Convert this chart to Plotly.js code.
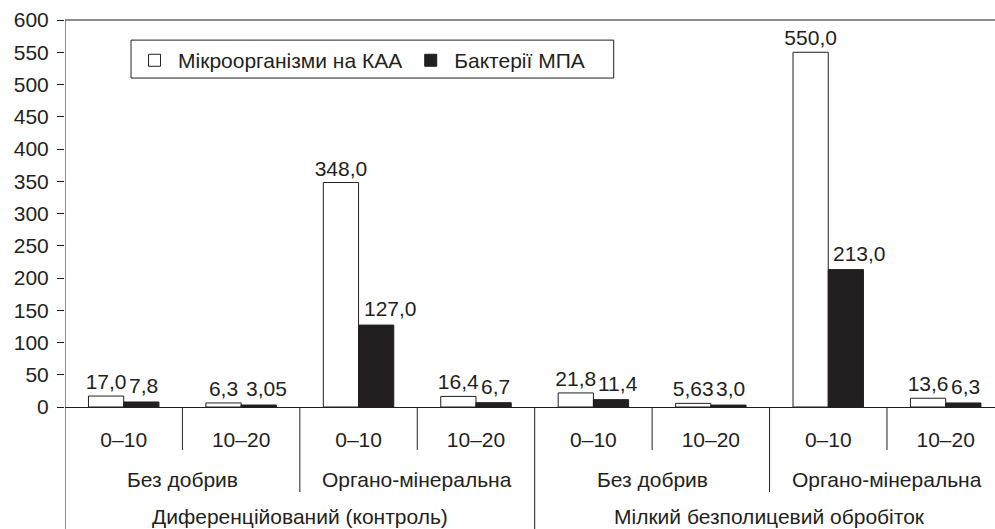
<!DOCTYPE html>
<html><head><meta charset="utf-8">
<script src="https://cdn.plot.ly/plotly-3.0.1.min.js"></script>
<style>html,body{margin:0;padding:0;overflow:hidden;background:#fff}</style>
</head><body><div id="chart" style="width:995px;height:529px"></div>
<script>
const depths = ["0–10","10–20","0–10","10–20","0–10","10–20","0–10","10–20"];
const fertilizers = ["Без добрив","Органо-мінеральна","Без добрив","Органо-мінеральна"];
const tillage = ["Диференційований (контроль)","Мілкий безполицевий обробіток"];
const seriesNames = ["Мікроорганізми на КАА","Бактерії МПА"];
const kaa = [17.0, 6.3, 348.0, 16.4, 21.8, 5.63, 550.0, 13.6];
const mpa = [7.8, 3.05, 127.0, 6.7, 11.4, 3.0, 213.0, 6.3];
const kaaLabels = ["17,0","6,3","348,0","16,4","21,8","5,63","550,0","13,6"];
const mpaLabels = ["7,8","3,05","127,0","6,7","11,4","3,0","213,0","6,3"];
const yTicks = [0,50,100,150,200,250,300,350,400,450,500,550,600];

const ink = '#231f20';
const FONT = 'Liberation Sans, Arial, sans-serif';
const FS = 21;
const xs = depths.map((_, i) => i);

const traces = [
  {type:'bar', name: seriesNames[0], x: xs, y: kaa, text: kaaLabels, textposition:'outside',
   cliponaxis:false, constraintext:'none', textfont:{family:FONT,size:FS,color:ink},
   marker:{color:'#ffffff', line:{color:ink,width:1}}},
  {type:'bar', name: seriesNames[1], x: xs, y: mpa,
   cliponaxis:false,
   marker:{color:ink, line:{color:ink,width:1}}}
];

const perFert = depths.length / fertilizers.length;
const perTill = depths.length / tillage.length;
const yDepthEnd = -0.111, yFertEnd = -0.2196, yBottom = -0.33;
const shapes = [];
for (let i = 0; i < depths.length - 1; i++) {
  const b = i + 0.5;
  let y1 = yDepthEnd;
  if ((i + 1) % perFert === 0) y1 = yFertEnd;
  if ((i + 1) % perTill === 0) y1 = yBottom;
  shapes.push({type:'line', xref:'x', yref:'paper', x0:b, x1:b, y0:0, y1:y1, line:{color:ink,width:1}});
}
shapes.push({type:'line', xref:'x', yref:'paper', x0:-0.5, x1:-0.5, y0:1, y1:yBottom, line:{color:ink,width:1}});
shapes.push({type:'line', xref:'paper', yref:'paper', x0:0, x1:1, y0:1, y1:1, line:{color:ink,width:1}});
// legend frame
shapes.push({type:'rect', xref:'paper', yref:'paper', x0:0.071, x1:0.590, y0:0.850, y1:0.948,
  line:{color:ink,width:1}, fillcolor:'#ffffff', layer:'below'});

const annotations = [];
// labels of the dark bars, starting just right of the bar's left edge
mpa.forEach((v, i) => {
  annotations.push({xref:'x', yref:'y', x: i, y: v, text: mpaLabels[i], showarrow:false,
    xanchor:'left', yanchor:'bottom', xshift:3, yshift:3, font:{family:FONT,size:FS,color:ink}});
});
fertilizers.forEach((f, k) => {
  annotations.push({xref:'x', yref:'paper', x: k*perFert + (perFert-1)/2, y: -0.188,
    text: f, showarrow:false, yanchor:'middle', font:{family:FONT,size:FS,color:ink}});
});
tillage.forEach((t, k) => {
  annotations.push({xref:'x', yref:'paper', x: k*perTill + (perTill-1)/2, y: -0.283,
    text: t, showarrow:false, yanchor:'middle', font:{family:FONT,size:FS,color:ink}});
});

const layout = {
  width: 995, height: 529,
  margin: {l:65, r:0, t:20, b:122},
  paper_bgcolor:'#fff', plot_bgcolor:'rgba(0,0,0,0)',
  font:{family:FONT, size:FS, color:ink},
  barmode:'group', bargap:0.4, bargroupgap:0,
  showlegend:true,
  legend:{orientation:'h', x:0.071, xanchor:'left', y:0.948, yanchor:'top', itemwidth:37,
    borderwidth:0, bgcolor:'rgba(0,0,0,0)', font:{family:FONT,size:FS,color:ink}},
  xaxis:{range:[-0.5, 7.42], tickvals: xs, ticktext: depths, ticks:'', showgrid:false, zeroline:false,
    showline:true, linecolor:ink, linewidth:1, ticklabelstandoff:14,
    tickfont:{family:FONT,size:FS,color:ink}, fixedrange:true},
  yaxis:{range:[0,600], tickvals:yTicks, ticks:'outside', ticklen:7, tickcolor:ink, tickwidth:1,
    showgrid:false, zeroline:false, showline:false, ticklabelstandoff:4,
    tickfont:{family:FONT,size:FS,color:ink}, fixedrange:true},
  shapes: shapes,
  annotations: annotations
};

Plotly.newPlot('chart', traces, layout, {displayModeBar:false, staticPlot:true});
</script></body></html>
